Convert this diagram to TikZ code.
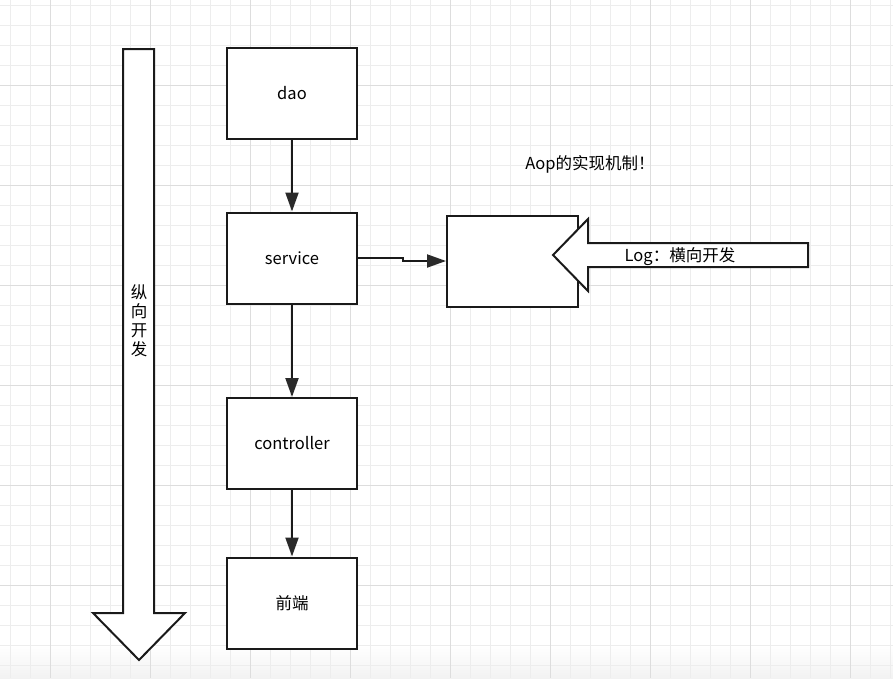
\documentclass[tikz,border=0pt]{standalone}
\usepackage{fontspec}
\setmainfont{Noto Sans CJK SC}
\usetikzlibrary{arrows.meta}
\definecolor{gridminor}{HTML}{EDEDED}
\definecolor{gridmajor}{HTML}{DDDDDD}
\definecolor{ink}{HTML}{1A1A1A}
\definecolor{tipink}{HTML}{2A2A2A}
\begin{document}
\begin{tikzpicture}[x=1pt,y=-1pt,
  layerbox/.style={draw=ink,line width=2pt,fill=white,minimum width=130pt,minimum height=91pt,inner sep=0pt,font=\fontsize{16.5}{19}\selectfont},
  flow/.style={draw=ink,line width=2pt,-{Triangle[length=19pt,width=13pt,color=tipink]}},
  bigarrow/.style={draw=ink,line width=2pt,fill=white,line join=miter},
  label/.style={inner sep=0pt,font=\fontsize{16.5}{19}\selectfont}]
\useasboundingbox (0,0) rectangle (893,678);
\fill[white] (0,0) rectangle (893,678);
% soft grey fade along the lower edge, under the grid
\shade[top color=white,bottom color=black!5] (0,645) rectangle (893,678);
% background grid
\foreach \gx in {10,30,...,890} \draw[gridminor,line width=1pt] (\gx,0) -- (\gx,678);
\foreach \gy in {5,25,...,675} \draw[gridminor,line width=1pt] (0,\gy) -- (893,\gy);
\foreach \gx in {50,150,...,850} \draw[gridmajor,line width=1pt] (\gx,0) -- (\gx,678);
\foreach \gy in {85,185,...,585} \draw[gridmajor,line width=1pt] (0,\gy) -- (893,\gy);
% vertical development arrow
\draw[bigarrow] (123,49) -- (154,49) -- (154,613) -- (185,613) -- (139,660) -- (93,613) -- (123,613) -- cycle;
\node[label,align=center] (vert) at (139,321) {纵\\向\\开\\发};
% layers
\node[layerbox] (dao) at (292,93.5) {dao};
\node[layerbox] (service) at (292,258) {service};
\node[layerbox] (controller) at (292,443.5) {controller};
\node[layerbox] (front) at (292,603) {前端};
\node[layerbox,minimum width=131pt] (aspect) at (512.5,261) {};
\draw[flow] (dao) -- (service);
\draw[flow] (service) -- (controller);
\draw[flow] (controller) -- (front);
\draw[flow] (service.east) -- ++(45,0) |- (aspect.west);
% horizontal (log) arrow
\draw[bigarrow] (808,243) -- (588,243) -- (588,219) -- (553,255) -- (588,291) -- (588,267) -- (808,267) -- cycle;
\node[label] (logtxt) at (680,257) {Log：横向开发};
\node[label] (title) at (590,164) {Aop的实现机制！};
\end{tikzpicture}
\end{document}
